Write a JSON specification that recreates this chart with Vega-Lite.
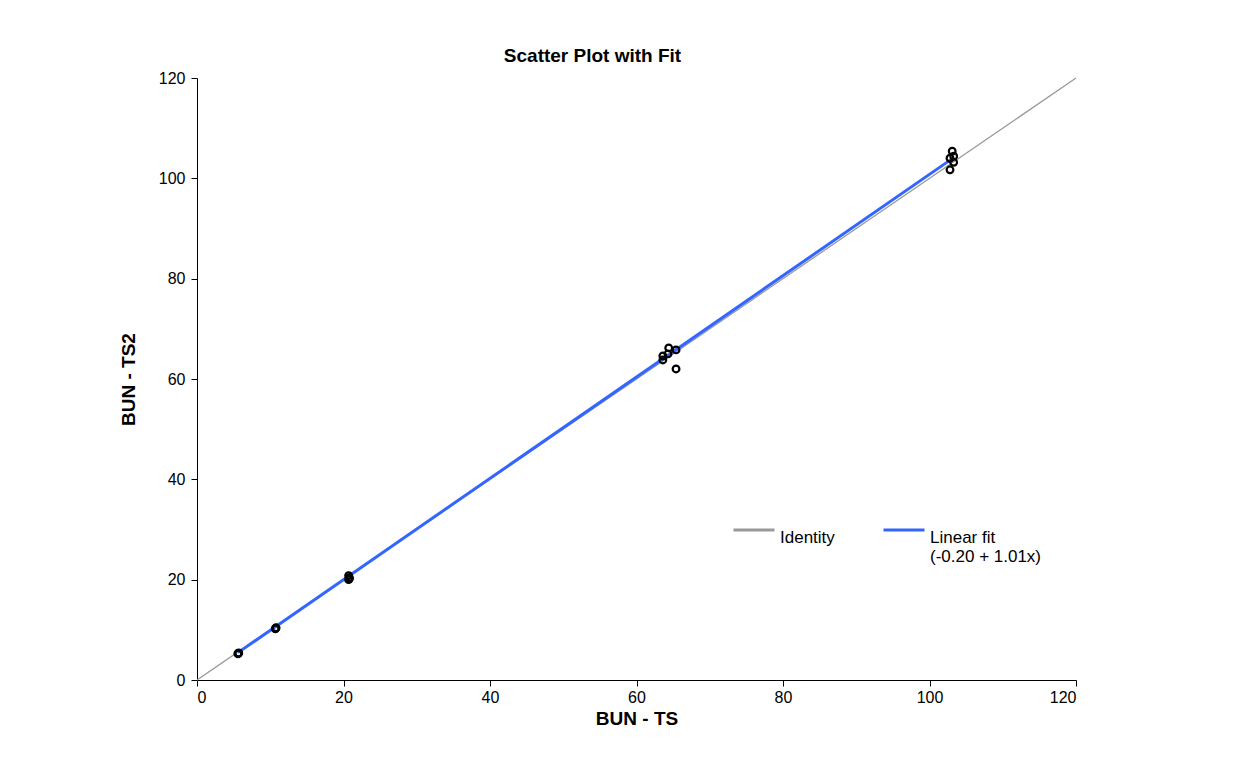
{
  "$schema": "https://vega.github.io/schema/vega-lite/v6.json",
  "autosize": {"type": "none"},
  "padding": {"left": 197, "top": 78, "right": 166, "bottom": 92},
  "width": 879,
  "height": 602,
  "background": "white",
  "title": {"text": "Scatter Plot with Fit", "font": "Liberation Sans", "fontSize": 19, "fontWeight": "bold", "color": "black", "anchor": "middle", "dx": -44, "offset": 4},
  "config": {"view": {"stroke": null}, "axis": {"grid": false, "domainColor": "black", "tickColor": "black", "labelFont": "Liberation Sans", "labelFontSize": 16, "labelColor": "black", "titleFont": "Liberation Sans", "titleFontSize": 19, "titleFontWeight": "bold", "titleColor": "black", "labelFontWeight": "normal", "tickSize": 6}},
  "datasets": {
    "pts": [
      {"ts": 5.6, "ts2": 5.3}, {"ts": 5.7, "ts2": 5.4}, {"ts": 5.6, "ts2": 5.2},
      {"ts": 10.7, "ts2": 10.3}, {"ts": 10.8, "ts2": 10.4}, {"ts": 10.7, "ts2": 10.2},
      {"ts": 20.7, "ts2": 20.8}, {"ts": 20.8, "ts2": 20.4}, {"ts": 20.7, "ts2": 20.0}, {"ts": 20.8, "ts2": 20.2},
      {"ts": 63.6, "ts2": 64.6}, {"ts": 63.6, "ts2": 63.8}, {"ts": 64.4, "ts2": 66.2}, {"ts": 64.3, "ts2": 65.0}, {"ts": 65.4, "ts2": 65.8}, {"ts": 65.4, "ts2": 62.0},
      {"ts": 103.1, "ts2": 105.4}, {"ts": 102.8, "ts2": 104.0}, {"ts": 103.3, "ts2": 104.4}, {"ts": 103.3, "ts2": 103.2}, {"ts": 102.8, "ts2": 101.7}
    ],
    "lines": [
      {"series": "Identity", "ts": 0, "ts2": 0},
      {"series": "Identity", "ts": 120, "ts2": 120},
      {"series": "Linear fit", "ts": 5.6, "ts2": 5.46},
      {"series": "Linear fit", "ts": 103.3, "ts2": 104.13}
    ]
  },
  "layer": [
    {
      "data": {"name": "lines"},
      "transform": [{"filter": "datum.series == 'Identity'"}],
      "mark": {"type": "line", "strokeWidth": 1.3},
      "encoding": {
        "x": {"field": "ts", "type": "quantitative", "scale": {"domain": [0, 120], "nice": false}, "axis": {"values": [0, 20, 40, 60, 80, 100, 120], "title": "BUN - TS", "titlePadding": 4, "labelPadding": 3}},
        "y": {"field": "ts2", "type": "quantitative", "scale": {"domain": [0, 120], "nice": false}, "axis": {"values": [0, 20, 40, 60, 80, 100, 120], "title": "BUN - TS2", "titlePadding": 20, "labelPadding": 6}},
        "color": {"field": "series", "type": "nominal", "scale": {"domain": ["Identity", "Linear fit"], "range": ["#999999", "#3366ff"]},
          "legend": {"title": null, "orient": "none", "legendX": 535, "legendY": 430, "direction": "horizontal", "symbolType": "stroke", "symbolSize": 1681, "symbolStrokeWidth": 3, "labelFont": "Liberation Sans", "labelFontSize": 17, "labelColor": "black", "columnPadding": 42, "labelOffset": 4, "labelBaseline": "top", "labelExpr": "datum.label == 'Linear fit' ? ['Linear fit', '(-0.20 + 1.01x)'] : [datum.label, '']"}}
      }
    },
    {
      "data": {"name": "lines"},
      "transform": [{"filter": "datum.series == 'Linear fit'"}],
      "mark": {"type": "line", "strokeWidth": 3},
      "encoding": {
        "x": {"field": "ts", "type": "quantitative"},
        "y": {"field": "ts2", "type": "quantitative"},
        "color": {"field": "series", "type": "nominal"}
      }
    },
    {
      "data": {"name": "pts"},
      "mark": {"type": "point", "shape": "circle", "filled": false, "color": "black", "strokeWidth": 2.2, "size": 45, "opacity": 1},
      "encoding": {
        "x": {"field": "ts", "type": "quantitative"},
        "y": {"field": "ts2", "type": "quantitative"}
      }
    }
  ]
}
